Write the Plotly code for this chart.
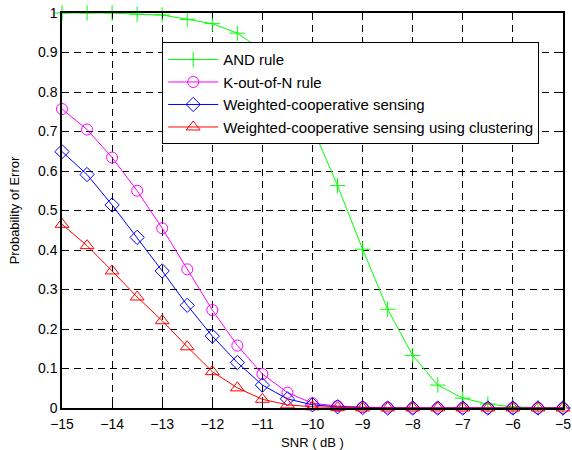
import plotly.graph_objects as go

snr = [-15, -14.5, -14, -13.5, -13, -12.5, -12, -11.5, -11, -10.5, -10,
       -9.5, -9, -8.5, -8, -7.5, -7, -6.5, -6, -5.5, -5]

and_rule = [1.0, 1.0, 1.0, 0.997, 0.995, 0.984, 0.973, 0.949, 0.905, 0.825, 0.71,
            0.563, 0.402, 0.25, 0.133, 0.058, 0.025, 0.01, 0.003, 0.001, 0.0]
k_out_of_n = [0.757, 0.705, 0.634, 0.55, 0.455, 0.351, 0.248, 0.158, 0.086, 0.039, 0.012,
              0.005, 0.002, 0.001, 0.0, 0.0, 0.0, 0.0, 0.0, 0.0, 0.0]
weighted = [0.649, 0.591, 0.514, 0.432, 0.347, 0.26, 0.182, 0.115, 0.058, 0.023, 0.008,
            0.003, 0.001, 0.0, 0.0, 0.0, 0.0, 0.0, 0.0, 0.0, 0.0]
weighted_cluster = [0.465, 0.411, 0.347, 0.281, 0.221, 0.155, 0.092, 0.051, 0.022, 0.008, 0.003,
                    0.001, 0.0, 0.0, 0.0, 0.0, 0.0, 0.0, 0.0, 0.0, 0.0]

series = [
    ("AND rule", and_rule, "#00ff00", "cross-thin-open", 11),
    ("K-out-of-N rule", k_out_of_n, "#ff00ff", "circle-open", 11),
    ("Weighted-cooperative sensing", weighted, "#0000ff", "diamond-open", 11),
    ("Weighted-cooperative sensing using clustering", weighted_cluster, "#ff0000", "triangle-up-open", 12),
]

FONT = "Liberation Sans, Arial"

fig = go.Figure()
for name, vals, col, sym, sz in series:
    fig.add_trace(go.Scatter(
        x=snr, y=vals, name=name, mode="lines+markers",
        line=dict(color=col, width=1),
        marker=dict(symbol=sym, size=sz, color=col, line=dict(color=col, width=1)),
        cliponaxis=False,
    ))

axis_common = dict(
    showline=True, linecolor="black", linewidth=1.5, mirror="ticks",
    ticks="inside", ticklen=5, tickcolor="black",
    showgrid=True, gridcolor="black", griddash="7px,5px", gridwidth=1,
    zeroline=False, automargin=False,
    tickfont=dict(family=FONT, size=14, color="black"),
)

fig.update_xaxes(range=[-15, -5], dtick=1, tick0=-15, ticklabelstandoff=2,
                 title=dict(text="SNR ( dB )", font=dict(family=FONT, size=13, color="black")),
                 **axis_common)
fig.update_yaxes(range=[0, 1], dtick=0.1, tick0=0,
                 title=dict(text="Probability of Error", font=dict(family=FONT, size=13, color="black")),
                 **axis_common)

fig.update_layout(
    width=572, height=450,
    margin=dict(l=62, r=9, t=13, b=42),
    paper_bgcolor="white", plot_bgcolor="white",
    font=dict(family=FONT, size=13, color="black"),
    legend=dict(x=0.2, y=0.926, xanchor="left", yanchor="top",
                bgcolor="white", bordercolor="black", borderwidth=1,
                font=dict(family=FONT, size=15, color="black"),
                tracegroupgap=0, itemwidth=50),
    showlegend=True,
)

fig.write_html("out.html")
